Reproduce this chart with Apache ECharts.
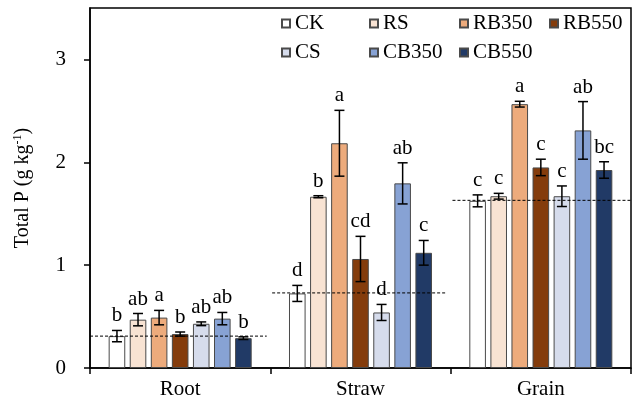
<!DOCTYPE html>
<html>
<head>
<meta charset="utf-8">
<script src="https://cdn.jsdelivr.net/npm/echarts@6/dist/echarts.min.js"></script>
<style>
    html, body { margin: 0; padding: 0; background: #fff; }
    #main { width: 638px; height: 406px; }
</style>
</head>
<body>
<div id="main"></div>
<script>
    // categories and treatments
    var categories = ['Root', 'Straw', 'Grain'];
    var treatments = ['CK', 'RS', 'RB350', 'RB550', 'CS', 'CB350', 'CB550'];

    // mean values (g kg-1)
    var CK    = [0.31, 0.725, 1.625];
    var RS    = [0.47, 1.665, 1.67];
    var RB350 = [0.49, 2.185, 2.565];
    var RB550 = [0.33, 1.06, 1.95];
    var CS    = [0.43, 0.54, 1.67];
    var CB350 = [0.48, 1.795, 2.31];
    var CB550 = [0.29, 1.12, 1.925];

    // standard errors
    var CK_err    = [0.055, 0.078, 0.058];
    var RS_err    = [0.06, 0.01, 0.028];
    var RB350_err = [0.07, 0.32, 0.028];
    var RB550_err = [0.02, 0.22, 0.08];
    var CS_err    = [0.018, 0.078, 0.1];
    var CB350_err = [0.06, 0.2, 0.28];
    var CB550_err = [0.013, 0.12, 0.08];

    // significance letters
    var CK_sig    = ['b', 'd', 'c'];
    var RS_sig    = ['ab', 'b', 'c'];
    var RB350_sig = ['a', 'a', 'a'];
    var RB550_sig = ['b', 'cd', 'c'];
    var CS_sig    = ['ab', 'd', 'c'];
    var CB350_sig = ['ab', 'ab', 'ab'];
    var CB550_sig = ['b', 'c', 'bc'];

    // CK reference lines (dashed), start/end in category units
    var refValues = [0.31, 0.73, 1.63];
    var refStart  = [0, 1.01, 2.01];
    var refEnd    = [0.98, 1.98, 3.0];

    // y axis ticks
    var yTicks = [0, 1, 2, 3];

    var means  = [CK, RS, RB350, RB550, CS, CB350, CB550];
    var errs   = [CK_err, RS_err, RB350_err, RB550_err, CS_err, CB350_err, CB550_err];
    var sigs   = [CK_sig, RS_sig, RB350_sig, RB550_sig, CS_sig, CB350_sig, CB550_sig];
    var colors = ['#ffffff', '#f8e3d3', '#edab7c', '#843c0c', '#d6dcec', '#87a2d4', '#213a66'];

    var FONT = "'Liberation Serif', 'Times New Roman', serif";
    var FS = 21;
    var BAR_W = 0.092;   // fraction of category width
    var BAR_GAP = 0.27;  // fraction of bar width

    var chart = echarts.init(document.getElementById('main'));

    var series = [];
    treatments.forEach(function (name, i) {
        series.push({
            name: name,
            type: 'bar',
            data: means[i],
            barWidth: (BAR_W * 100) + '%',
            barGap: (BAR_GAP * 100) + '%',
            itemStyle: { color: colors[i], borderColor: '#4a4a4a', borderWidth: 1 }
        });
    });

    // error bars + letters
    var errData = [];
    treatments.forEach(function (name, i) {
        for (var c = 0; c < categories.length; c++) {
            errData.push([c, i, means[i][c], errs[i][c], sigs[i][c]]);
        }
    });
    series.push({
        type: 'custom',
        z: 5,
        data: errData,
        renderItem: function (params, api) {
            var c = api.value(0), i = api.value(1);
            var m = api.value(2), e = api.value(3);
            var letter = errData[params.dataIndex][4];
            var band = api.size([1, 0])[0];
            var dx = (i - 3) * band * BAR_W * (1 + BAR_GAP);
            var top = api.coord([c, m + e]);
            var bot = api.coord([c, m - e]);
            var x = top[0] + dx;
            var cap = 5;
            var st = { stroke: '#000', lineWidth: 1.5 };
            return {
                type: 'group',
                children: [
                    { type: 'line', shape: { x1: x, y1: top[1], x2: x, y2: bot[1] }, style: st },
                    { type: 'line', shape: { x1: x - cap, y1: top[1], x2: x + cap, y2: top[1] }, style: st },
                    { type: 'line', shape: { x1: x - cap, y1: bot[1], x2: x + cap, y2: bot[1] }, style: st },
                    { type: 'text', style: { text: letter, x: x, y: top[1] - 4, align: 'center', verticalAlign: 'bottom',
                        font: FS + 'px ' + FONT, fill: '#000' } }
                ]
            };
        }
    });

    // dashed CK reference lines on a hidden value x axis
    for (var k = 0; k < refValues.length; k++) {
        series.push({
            type: 'line',
            xAxisIndex: 1,
            symbol: 'none',
            silent: true,
            z: 6,
            lineStyle: { color: '#000', width: 1, type: [3, 2] },
            data: [[refStart[k], refValues[k]], [refEnd[k], refValues[k]]]
        });
    }

    // one legend per item so the columns line up like the original
    var legendLeft = [276, 364, 454, 544, 276, 364, 454];
    var legendTop  = [8, 8, 8, 8, 37, 37, 37];
    var legends = treatments.map(function (name, i) {
        return {
            data: [name],
            left: legendLeft[i],
            top: legendTop[i],
            itemWidth: 8,
            itemHeight: 8,
            icon: 'rect',
            textStyle: { fontFamily: FONT, fontSize: FS, color: '#000' }
        };
    });

    option = {
        animation: false,
        grid: {
            left: 90, right: 7, top: 8, bottom: 38,
            show: true, borderColor: '#000', borderWidth: 1.5
        },
        legend: legends,
        xAxis: [{
            type: 'category',
            data: categories,
            axisLine: { lineStyle: { color: '#000', width: 1.5 } },
            axisTick: { show: true, length: 6, lineStyle: { color: '#000', width: 1.5 } },
            axisLabel: { color: '#000', fontFamily: FONT, fontSize: FS, margin: 11 }
        }, {
            type: 'value',
            min: 0, max: 3,
            show: false
        }],
        yAxis: {
            type: 'value',
            min: 0, max: 3.5, interval: 1,
            name: 'Total P (g kg{sup|-1})',
            nameLocation: 'middle',
            nameGap: 57,
            nameTextStyle: {
                color: '#000', fontFamily: FONT, fontSize: 20,
                rich: { sup: { fontFamily: FONT, fontSize: 12, color: '#000', padding: [0, 0, 9, 0] } }
            },
            splitLine: { show: false },
            axisLine: { show: true, lineStyle: { color: '#000', width: 1.5 } },
            axisTick: { show: true, length: 6, customValues: yTicks, lineStyle: { color: '#000', width: 1.5 } },
            axisLabel: { color: '#000', fontFamily: FONT, fontSize: FS, margin: 24, customValues: yTicks }
        },
        series: series
    };

    chart.setOption(option);
</script>
</body>
</html>
